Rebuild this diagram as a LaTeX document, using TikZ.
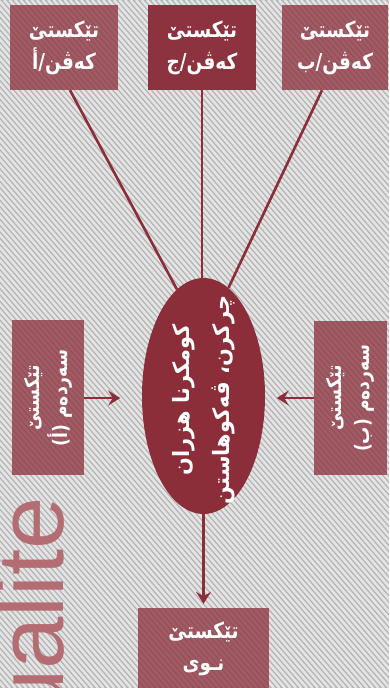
\documentclass[tikz,border=0pt]{standalone}
\usepackage{fontspec}
\newfontfamily\arabicfont[Script=Arabic]{DejaVu Sans}
\newfontfamily\latinsans{Liberation Sans}
\TeXXeTstate=1
\usetikzlibrary{arrows.meta,shapes.geometric}
\definecolor{wine}{RGB}{139,46,58}
\definecolor{bggray}{RGB}{180,180,180}
\definecolor{stripecol}{RGB}{228,228,228}
\definecolor{ualitecol}{RGB}{178,98,106}
\newcommand{\rtltext}[2][0.86]{\scalebox{#1}[1]{\beginR #2\endR}}
\begin{document}
\begin{tikzpicture}[x=1pt,y=1pt,
  conn/.style={draw=wine, line width=2.6pt},
  arr/.style={conn, -{Stealth[length=12pt,width=15pt,inset=4.5pt]}},
  boxbase/.style={draw=none, inner sep=0pt, align=center, text=white, text opacity=1},
  semibox/.style={boxbase, fill=wine, fill opacity=0.75},
  darkbox/.style={boxbase, fill=wine, fill opacity=0.97},
  topfont/.style={font=\arabicfont\bfseries\fontsize{22}{32}\selectfont},
  sidefont/.style={font=\arabicfont\bfseries\fontsize{20}{28}\selectfont},
  midfont/.style={font=\arabicfont\bfseries\fontsize{22.5}{40}\selectfont}]
\useasboundingbox (0,0) rectangle (389,688);
% background
\fill[bggray] (0,0) rectangle (389,688);
\begin{scope}
\clip (0,0) rectangle (389,688);
\foreach \i in {-700,-694.5,...,400} \draw[stripecol, line width=2.6pt] (\i,688) -- ++(600,-688);
\node[rotate=90, anchor=base east, inner sep=0pt, text=ualitecol, text opacity=0.9,
  font=\latinsans\fontsize{94}{94}\selectfont] (Q) at (63,191) {ualite};
\end{scope}
% top boxes
\node[semibox, topfont, minimum width=108, minimum height=85] (A) at (64,640.5)
  {\rtltext[0.84]{تێکستێ}\\\rtltext[0.84]{کەڤن/أ}};
\node[darkbox, topfont, minimum width=108, minimum height=85] (C) at (202,640.5)
  {\rtltext[0.84]{تێکستێ}\\\rtltext[0.84]{کەڤن/ج}};
\node[semibox, topfont, minimum width=106, minimum height=85] (B) at (335,640.5)
  {\rtltext[0.84]{تێکستێ}\\\rtltext[0.84]{کەڤن/ب}};
% side boxes
\node[semibox, sidefont, rotate=90, minimum width=155, minimum height=72] (L) at (48,290)
  {\rtltext{تێکستێ}\\\rtltext{سەردەم (أ)}};
\node[semibox, sidefont, rotate=90, minimum width=154, minimum height=73] (R) at (350.5,290)
  {\rtltext{تێکستێ}\\\rtltext{سەردەم (ب)}};
% central ellipse
\node[ellipse, fill=wine, draw=none, minimum width=123, minimum height=236, inner sep=0pt] (E) at (203.5,292) {};
\node[rotate=90, text=white, align=center, inner sep=0pt, midfont] (Et) at ([yshift=-4pt]E.center)
  {\rtltext[0.93]{کومکرنا هزران}\\\rtltext[0.93]{چرکرن، ڤەکوهاستن}};
% bottom box
\node[semibox, topfont, minimum width=131, minimum height=82] (N) at (203.5,39)
  {\rtltext[0.84]{تێکستێ}\\\rtltext[0.84]{نـوی}};
% connectors
\draw[conn] ([xshift=6pt]A.south) -- (E.104);
\draw[conn] (C.south) -- (C.south |- E.north);
\draw[conn] ([xshift=-13pt]B.south) -- (E.77.7);
\coordinate (la) at ([xshift=36pt]L.south);
\coordinate (ra) at ([xshift=-37pt]R.north);
\draw[arr] (L.south) -- (la);
\draw[arr] (R.north) -- (ra);
\draw[arr, shorten >=4pt] (E.south) -- (N.north);
\end{tikzpicture}
\end{document}
